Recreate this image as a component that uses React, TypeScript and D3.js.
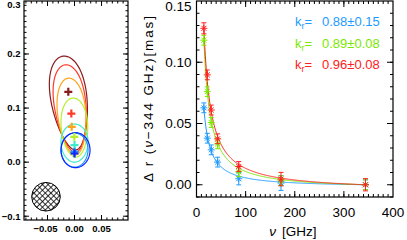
import React from 'react';
import * as d3 from 'd3';

// core shift map (left panel), one entry per frequency
const mapColors = ['#8b1c1c', '#ff3a2a', '#ffa41a', '#b4f030', '#40ecc8', '#1e90ff', '#0a28ff'];
const contourX = [-0.0093, -0.0074, -0.0046, 0.0, 0.0, 0.0, 0.0019];
const contourY = [0.1093, 0.0991, 0.0843, 0.0639, 0.0352, 0.0222, 0.0222];
const contourA = [0.033, 0.029, 0.026, 0.0245, 0.025, 0.025, 0.0268];
const contourB = [0.0875, 0.0815, 0.0713, 0.0546, 0.0352, 0.0315, 0.0324];
const contourTilt = [8, 7, 5.5, 3, 0, 0, 0];
const contourEgg = [0.2, 0.18, 0.14, 0.1, 0.05, 0.03, 0];
const peakX = [-0.0115, -0.0059, -0.0052, -0.0004, 0.0, 0.0, 0.0];
const peakY = [0.13, 0.0898, 0.0654, 0.0469, 0.0315, 0.0194, 0.016];
const beam = { x: -0.0528, y: -0.064, r: 0.0265 };

// core shift vs frequency (right panel)
const freqs = [15, 22, 30, 43, 86, 172, 344];
const seriesNames = ['blue', 'green', 'red'];
const seriesColors = ['#1e9bff', '#7ae800', '#ff2020'];
const blueVals = [0.0628, 0.038, 0.0285, 0.0185, 0.0049, 0.0014, 0.0];
const greenVals = [0.118, 0.076, 0.0508, 0.0334, 0.0106, 0.0033, 0.0];
const redVals = [0.1277, 0.0897, 0.061, 0.0375, 0.0149, 0.0046, 0.0];
const blueErr = [0.004, 0.004, 0.004, 0.004, 0.005, 0.006, 0.004];
const greenErr = [0.004, 0.004, 0.004, 0.004, 0.004, 0.004, 0.004];
const redErr = [0.0045, 0.004, 0.004, 0.004, 0.004, 0.0055, 0.005];
const kr = [0.88, 0.89, 0.96];
const krErr = [0.15, 0.08, 0.08];
const fitAmp = [1.4, 2.55, 2.24];

const rightX = d3.scaleLinear().domain([0, 400]).range([196.5, 393]);
const rightY = d3.scaleLinear().domain([-0.01, 0.15]).range([197, 1]);
const leftX = d3.scaleLinear().domain([-0.0935, 0.099]).range([24, 128]);
const leftY = d3.scaleLinear().domain([-0.107, 0.298]).range([220, 1]);

const eggPath = (i: number) => {
  const pts: [number, number][] = [];
  const th = (contourTilt[i] * Math.PI) / 180;
  for (let k = 0; k <= 120; k++) {
    const t = (k / 120) * Math.PI * 2;
    const u = contourA[i] * Math.cos(t) * (1 + contourEgg[i] * Math.sin(t));
    const v = contourB[i] * Math.sin(t);
    const x = contourX[i] + u * Math.cos(th) - v * Math.sin(th);
    const y = contourY[i] + u * Math.sin(th) + v * Math.cos(th);
    pts.push([leftX(x), leftY(y)]);
  }
  return d3.line().curve(d3.curveLinearClosed)(pts) || '';
};

const Ticks = ({ x, y, xMajor, xMinor, yMajor, yMinor, maj, min }: any) => {
  const [x0, x1] = x.range();
  const [y0, y1] = y.range();
  const segs: string[] = [];
  xMajor.forEach((v: number) => {
    const p = x(v);
    segs.push(`M${p},${y0}v${-maj}M${p},${y1}v${maj}`);
  });
  xMinor.forEach((v: number) => {
    const p = x(v);
    segs.push(`M${p},${y0}v${-min}M${p},${y1}v${min}`);
  });
  yMajor.forEach((v: number) => {
    const p = y(v);
    segs.push(`M${x0},${p}h${maj}M${x1},${p}h${-maj}`);
  });
  yMinor.forEach((v: number) => {
    const p = y(v);
    segs.push(`M${x0},${p}h${min}M${x1},${p}h${-min}`);
  });
  return <path d={segs.join('')} stroke="#000" strokeWidth={1} fill="none" />;
};

const rangeStep = (a: number, b: number, s: number) =>
  d3.range(Math.round(a / s), Math.round(b / s) + 1).map((k) => +(k * s).toFixed(4));

export default function App() {
  const vals = [blueVals, greenVals, redVals];
  const errs = [blueErr, greenErr, redErr];
  const fitFreqs = d3.range(15, 345, 1);

  const lxMaj = [-0.05, 0, 0.05];
  const lyMaj = [-0.1, 0, 0.1, 0.2];
  const lxMin = rangeStep(-0.09, 0.09, 0.01);
  const lyMin = rangeStep(-0.1, 0.29, 0.01);
  const rxMaj = [100, 200, 300];
  const ryMaj = [0, 0.05, 0.1];
  const rxMin = rangeStep(10, 390, 10);
  const ryMin = rangeStep(-0.01, 0.14, 0.01);

  const font = "'Liberation Sans', Arial, sans-serif";

  return (
    <svg width={407} height={240} style={{ position: 'absolute', left: 0, top: 0, background: '#fff' }}
      fontFamily={font}>
      <defs>
        <pattern id="hatch" width={4} height={4} patternUnits="userSpaceOnUse" patternTransform="rotate(45)">
          <rect width={4} height={4} fill="#fff" />
          <path d="M0,0V4M0,0H4" stroke="#000" strokeWidth={1.6} />
        </pattern>
        <clipPath id="lclip">
          <rect x={24} y={1} width={104} height={219} />
        </clipPath>
        <clipPath id="rclip">
          <rect x={196.5} y={1} width={196.5} height={196} />
        </clipPath>
      </defs>

      {/* left panel: map */}
      <g clipPath="url(#lclip)">
        {mapColors.map((c, i) => (
          <path key={'c' + i} d={eggPath(i)} fill="none" stroke={c} strokeWidth={1.2} />
        ))}
        {mapColors.map((c, i) => {
          const px = leftX(peakX[i]);
          const py = leftY(peakY[i]);
          return (
            <path key={'p' + i} d={`M${px - 4},${py}h8M${px},${py - 4}v8`} stroke={c} strokeWidth={2.2} />
          );
        })}
        <circle cx={leftX(beam.x)} cy={leftY(beam.y)} r={leftX(beam.r) - leftX(0)}
          fill="url(#hatch)" stroke="#000" strokeWidth={1} />
      </g>
      <rect x={24} y={1} width={104} height={219} fill="none" stroke="#000" strokeWidth={1.2} />
      <Ticks x={leftX} y={leftY} xMajor={lxMaj} xMinor={lxMin} yMajor={lyMaj} yMinor={lyMin} maj={5} min={2.5} />
      {[0.3, 0.2, 0.1, 0, -0.1].map((v) => (
        <text key={'ly' + v} x={20.5} y={Math.max(leftY(v), 5)} dy="0.35em" textAnchor="end"
          fontSize={9.5} fontWeight="bold">{v === 0 ? '0.0' : v < 0 ? '\u2212' + Math.abs(v).toFixed(1) : v.toFixed(1)}</text>
      ))}
      {lxMaj.map((v) => (
        <text key={'lx' + v} x={leftX(v) - (v < 0 ? 2 : 0)} y={232} textAnchor="middle" fontSize={9.5}
          fontWeight="bold">{v < 0 ? '\u2212' + Math.abs(v).toFixed(2) : v.toFixed(2)}</text>
      ))}

      {/* right panel: core shift */}
      <g clipPath="url(#rclip)">
        {vals.map((vs, s) => {
          const line = d3.line<number>()
            .x((f) => rightX(f))
            .y((f) => rightY(fitAmp[s] * (Math.pow(f, -1 / kr[s]) - Math.pow(344, -1 / kr[s]))));
          return (
            <path key={'fit' + s} d={line(fitFreqs) || ''} fill="none" stroke={seriesColors[s]} strokeWidth={1} />
          );
        })}
        {vals.map((vs, s) =>
          vs.map((v, i) => {
            const px = rightX(freqs[i]);
            const py = rightY(v);
            const lo = rightY(v - errs[s][i]);
            const hi = rightY(v + errs[s][i]);
            const r = 3.5;
            const d = r * 0.707;
            return (
              <g key={seriesNames[s] + i} stroke={seriesColors[s]} strokeWidth={1}>
                <path d={`M${px},${lo}V${hi}M${px - 2.5},${lo}h5M${px - 2.5},${hi}h5`} />
                <path d={`M${px - r},${py}h${2 * r}M${px},${py - r}v${2 * r}M${px - d},${py - d}l${2 * d},${2 * d}M${px - d},${py + d}l${2 * d},${-2 * d}`} />
              </g>
            );
          })
        )}
      </g>
      <rect x={196.5} y={1} width={196.5} height={196} fill="none" stroke="#000" strokeWidth={1.2} />
      <Ticks x={rightX} y={rightY} xMajor={rxMaj} xMinor={rxMin} yMajor={ryMaj} yMinor={ryMin} maj={6} min={3} />
      {[0.15, 0.1, 0.05, 0].map((v) => (
        <text key={'ry' + v} x={191.5} y={Math.max(rightY(v), 6.5)} dy="0.35em" textAnchor="end"
          fontSize={13.5}>{v.toFixed(2)}</text>
      ))}
      {[0, 100, 200, 300, 400].map((v) => (
        <text key={'rx' + v} x={rightX(v)} y={217} textAnchor="middle" fontSize={13.5}>{v}</text>
      ))}
      <text x={293} y={236} textAnchor="middle" fontSize={13.5}>
        <tspan fontStyle="italic">ν</tspan>
        <tspan dx={6}>[GHz]</tspan>
      </text>
      <text transform="translate(153,99) rotate(-90)" textAnchor="middle" fontSize={13.5}
        textLength={166} lengthAdjust="spacing">
        Δ r (<tspan fontStyle="italic">ν</tspan>−344 GHz)[mas]
      </text>
      {kr.map((k, s) => (
        <text key={'leg' + s} x={295} y={26 + s * 21.5} fontSize={13} fill={seriesColors[s]}>
          k<tspan fontSize={9} dy={3}>r</tspan>
          <tspan dy={-3}>=</tspan>
          <tspan x={322}>{k.toFixed(2)}±{krErr[s].toFixed(2)}</tspan>
        </text>
      ))}
    </svg>
  );
}
